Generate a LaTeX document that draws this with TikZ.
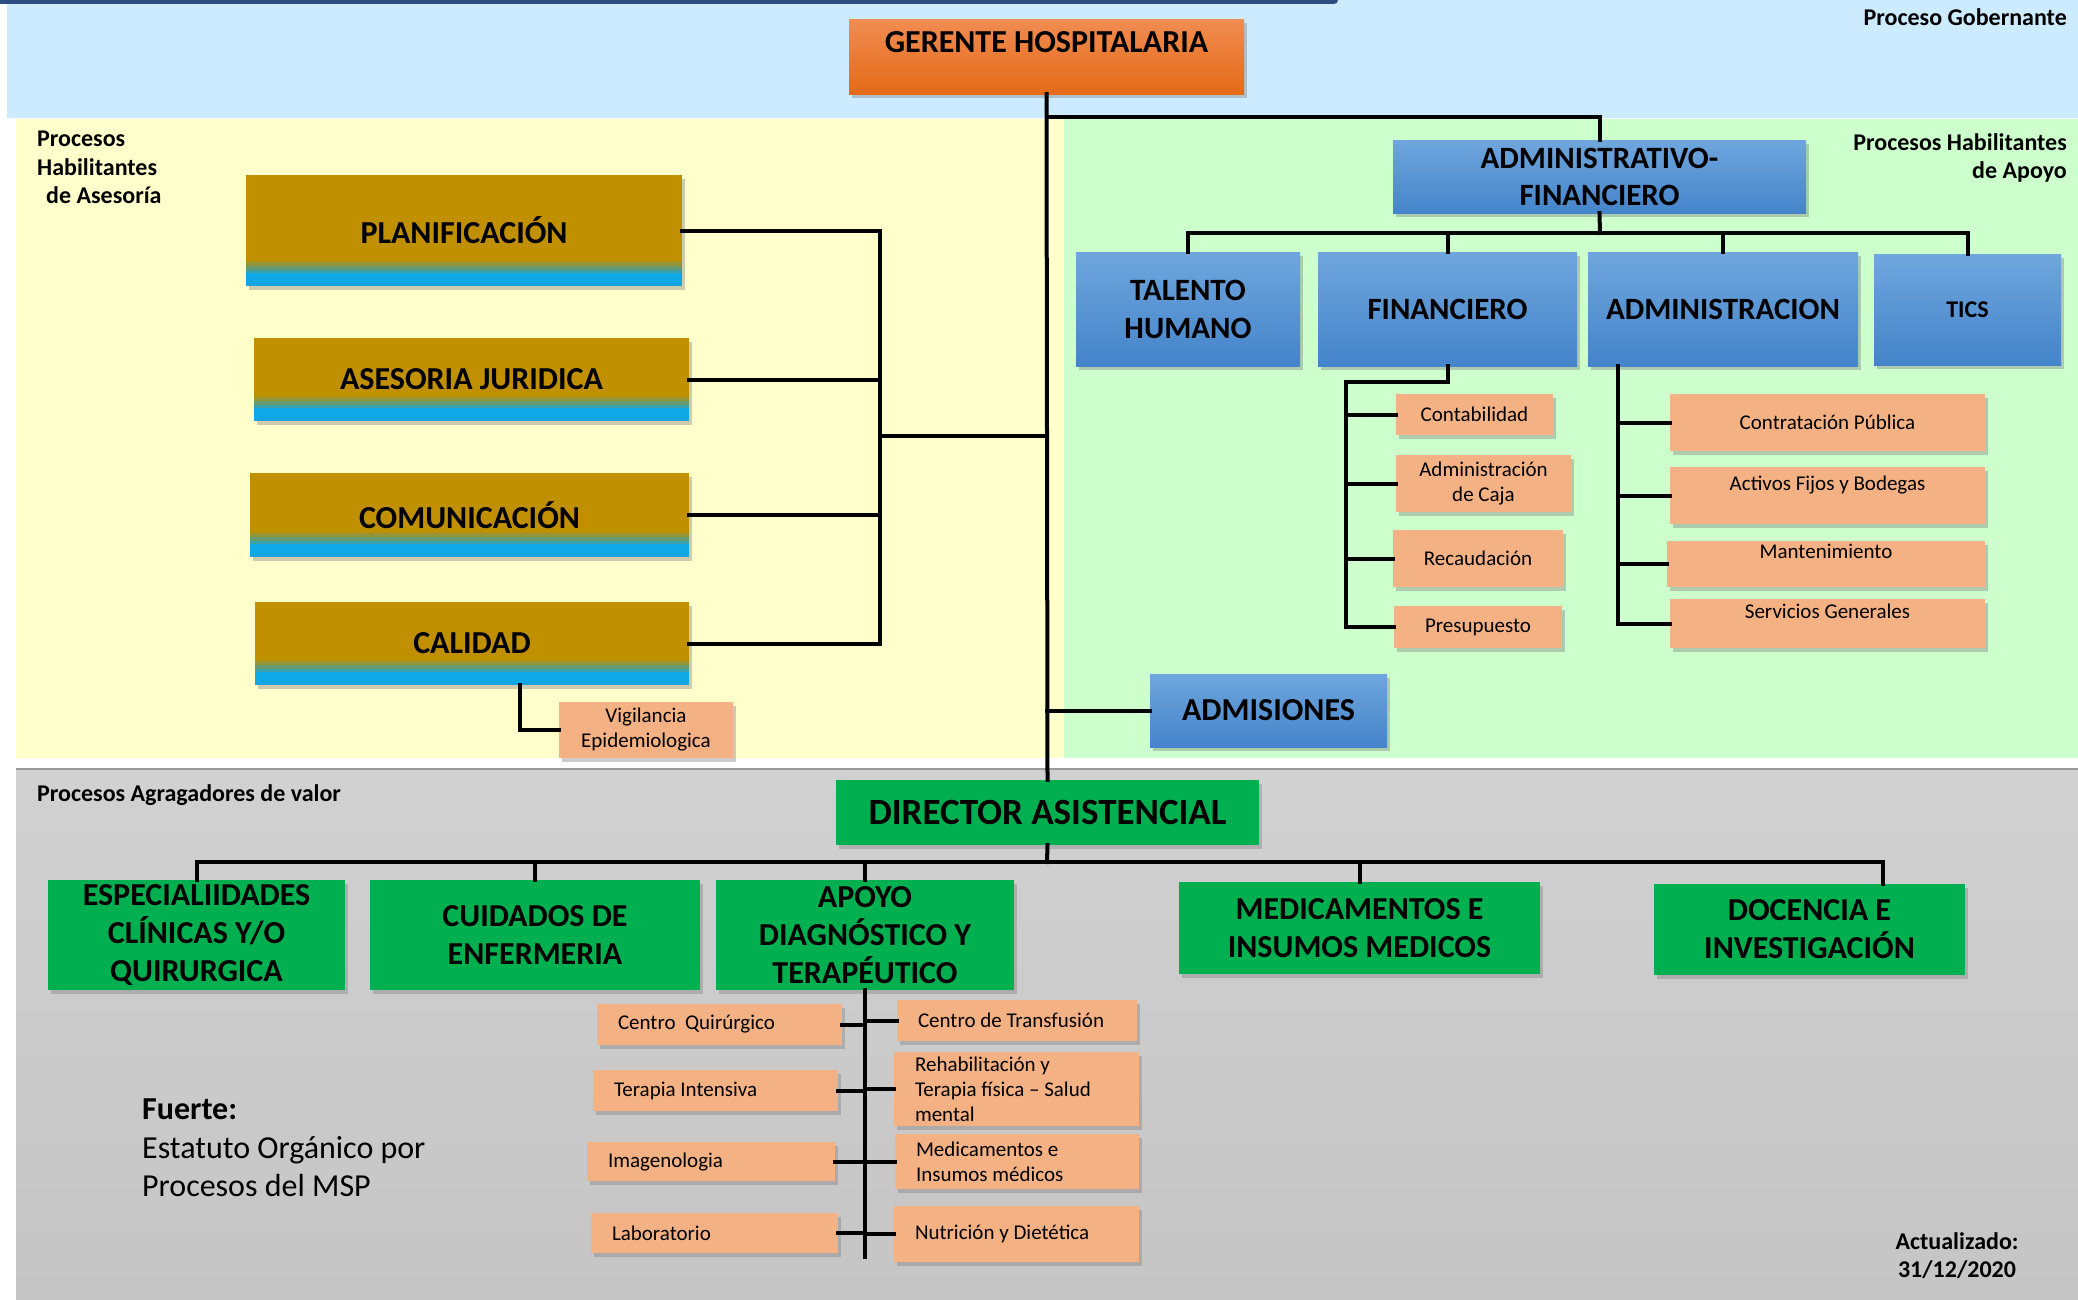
\documentclass[tikz,border=0pt]{standalone}
\usepackage{fontspec}
\setmainfont{Carlito}
\usetikzlibrary{shadows}

\definecolor{bandblue}{RGB}{204,235,254}
\definecolor{bandyellow}{RGB}{255,255,204}
\definecolor{bandgreen}{RGB}{204,255,204}
\definecolor{bandgray}{RGB}{209,209,209}
\definecolor{bandgraylow}{RGB}{197,197,197}
\definecolor{topline}{RGB}{44,77,130}
\definecolor{bossTop}{RGB}{241,140,82}
\definecolor{bossBot}{RGB}{228,106,22}
\definecolor{gold}{RGB}{192,144,0}
\definecolor{stripmid}{RGB}{104,154,112}
\definecolor{stripblue}{RGB}{14,168,230}
\definecolor{supTop}{RGB}{111,166,221}
\definecolor{supBot}{RGB}{68,132,202}
\definecolor{valgreen}{RGB}{0,176,80}
\definecolor{peach}{RGB}{244,177,131}

\begin{document}
\begin{tikzpicture}[x=1pt, y=-1pt,
		shade box/.style={drop shadow={shadow xshift=3pt, shadow yshift=-4pt, opacity=.4}},
		boss/.style={shade box, top color=bossTop, bottom color=bossBot, inner sep=0pt, text height=33pt, text depth=42pt, font=\fontsize{32}{38}\selectfont\bfseries},
		advbox/.style={shade box, fill=gold, inner sep=0pt, font=\fontsize{32}{38}\selectfont\bfseries,
			path picture={
				\fill[gold!50!stripmid] ([yshift=24pt]path picture bounding box.south west) rectangle ([yshift=20pt]path picture bounding box.south east);
				\fill[stripmid] ([yshift=20pt]path picture bounding box.south west) rectangle ([yshift=16pt]path picture bounding box.south east);
				\fill[stripmid!50!stripblue] ([yshift=16pt]path picture bounding box.south west) rectangle ([yshift=13pt]path picture bounding box.south east);
				\fill[stripblue] ([yshift=13pt]path picture bounding box.south west) rectangle ([yshift=3pt]path picture bounding box.south east);
				\fill[stripblue!80!supBot] ([yshift=3pt]path picture bounding box.south west) rectangle (path picture bounding box.south east);}},
		supbox/.style={shade box, top color=supTop, bottom color=supBot, inner sep=0pt, align=center, font=\fontsize{31}{38}\selectfont\bfseries},
		valbox/.style={shade box, fill=valgreen, inner sep=0pt, align=center, font=\fontsize{32}{38}\selectfont\bfseries},
		unitbox/.style={shade box, fill=peach, inner sep=0pt, align=center, font=\fontsize{21}{25}\selectfont},
		unitleft/.style={unitbox, align=flush left, inner xsep=21pt, text width=#1},
		zonetag/.style={inner sep=0pt, font=\fontsize{24}{28.5}\selectfont\bfseries},
		link/.style={line width=4pt, line cap=rect}]
	\useasboundingbox (0,0) rectangle (2078,1299);

	% bands
	\fill[bandblue] (7,0) rectangle (2078,118);
	\fill[bandyellow] (16,119) rectangle (1064,758);
	\fill[bandgreen] (1064,119) rectangle (2078,758);
	\shade[top color=bandgray, bottom color=bandgraylow] (16,769) rectangle (2078,1299);
	\draw[gray!80, line width=2pt] (16,769) -- (2078,769);
	\draw[topline, line width=8pt, line cap=round] (-10,0) -- (1334,0);

	% boxes
	\node[boss, minimum width=395pt] (ger) at (1046.5,56.5) {GERENTE HOSPITALARIA};

	\node[advbox, minimum width=436pt, minimum height=111pt] (plan) at (464,230.5) {PLANIFICACIÓN};
	\node[advbox, minimum width=435pt, minimum height=83pt] (ases) at (471.5,379.5) {ASESORIA JURIDICA};
	\node[advbox, minimum width=439pt, minimum height=84pt] (comu) at (469.5,515) {COMUNICACIÓN};
	\node[advbox, minimum width=434pt, minimum height=83pt] (cal) at (472,643.5) {CALIDAD};
	\node[unitbox, minimum width=174pt, minimum height=56pt] (vig) at (646,730) {Vigilancia\\Epidemiologica};

	\node[supbox, minimum width=413pt, minimum height=73pt, font=\fontsize{31}{37}\selectfont\bfseries] (adf) at (1599.5,176.5) {ADMINISTRATIVO-\\FINANCIERO};
	\node[supbox, minimum width=224pt, minimum height=114pt] (talento) at (1188,309) {TALENTO\\HUMANO};
	\node[supbox, minimum width=259pt, minimum height=114pt] (financiero) at (1447.5,309) {FINANCIERO};
	\node[supbox, minimum width=270pt, minimum height=114pt] (administracion) at (1723,309) {ADMINISTRACION};
	\node[supbox, minimum width=187pt, minimum height=111pt, font=\fontsize{24}{29}\selectfont\bfseries] (tics) at (1967.5,309.5) {TICS};
	\node[supbox, minimum width=237pt, minimum height=73pt, font=\fontsize{32}{38}\selectfont\bfseries] (admisiones) at (1268.5,710.5) {ADMISIONES};

	\node[unitbox, minimum width=157pt, minimum height=41pt] (contab) at (1474.5,414.5) {Contabilidad};
	\node[unitbox, minimum width=175pt, minimum height=57pt] (caja) at (1483.5,483.5) {Administración\\de Caja};
	\node[unitbox, minimum width=170pt, minimum height=57pt] (recaud) at (1478,558.5) {Recaudación};
	\node[unitbox, minimum width=168pt, minimum height=42pt] (presup) at (1478,627) {Presupuesto};

	\node[unitbox, minimum width=315pt, minimum height=57pt] (contrat) at (1827.5,422.5) {Contratación Pública};
	\node[unitbox, minimum width=315pt, text height=23.5pt, text depth=33.5pt] (activos) at (1827.5,495.5) {Activos Fijos y Bodegas};
	\node[unitbox, minimum width=318pt, text height=17.5pt, text depth=28.5pt] (mant) at (1826,564) {Mantenimiento};
	\node[unitbox, minimum width=315pt, text height=19.5pt, text depth=29.5pt] (servicios) at (1827.5,623.5) {Servicios Generales};

	\node[valbox, minimum width=423pt, minimum height=65pt, font=\fontsize{37}{44}\selectfont\bfseries] (dir) at (1047.5,812.5) {DIRECTOR ASISTENCIAL};
	\node[valbox, minimum width=297pt, minimum height=110pt] (esp) at (196.5,935) {ESPECIALIIDADES\\CLÍNICAS Y/O\\QUIRURGICA};
	\node[valbox, minimum width=330pt, minimum height=110pt] (cuid) at (535,935) {CUIDADOS DE\\ENFERMERIA};
	\node[valbox, minimum width=298pt, minimum height=110pt] (apoyo) at (865,935) {APOYO\\DIAGNÓSTICO Y\\TERAPÉUTICO};
	\node[valbox, minimum width=361pt, minimum height=92pt] (medic) at (1359.5,928) {MEDICAMENTOS E\\INSUMOS MEDICOS};
	\node[valbox, minimum width=311pt, minimum height=91pt] (docencia) at (1809.5,929.5) {DOCENCIA E\\INVESTIGACIÓN};

	\node[unitleft=203pt, minimum height=41pt] (quir) at (719.5,1024.5) {Centro\ \ Quirúrgico};
	\node[unitleft=203pt, minimum height=41pt] (terapia) at (715.5,1090.5) {Terapia Intensiva};
	\node[unitleft=206pt, minimum height=39pt] (imagen) at (711,1161.5) {Imagenologia};
	\node[unitleft=205pt, minimum height=40pt] (lab) at (714.5,1233) {Laboratorio};
	\node[unitleft=198pt, minimum height=41pt] (transf) at (1017,1020.5) {Centro de Transfusión};
	\node[unitleft=203pt, minimum height=74pt] (rehab) at (1016.5,1089) {Rehabilitación y\\Terapia física – Salud\\mental};
	\node[unitleft=202pt, minimum height=55pt] (medins) at (1017,1161.5) {Medicamentos e\\Insumos médicos};
	\node[unitleft=203pt, minimum height=56pt] (nutri) at (1016.5,1234) {Nutrición y Dietética};

	% zone texts
	\node[zonetag, anchor=east] (gob) at (2067,17) {Proceso Gobernante};
	\node[zonetag, anchor=north west, align=left] (asesoria) at (37,131) {Procesos\\Habilitantes\\\hspace*{9pt}de Asesoría};
	\node[zonetag, anchor=north east, align=right] (apoyotag) at (2067,133) {Procesos Habilitantes\\de Apoyo};
	\node[zonetag, anchor=west] (valor) at (37,795) {Procesos Agragadores de valor};
	\node[anchor=north west, align=left, inner sep=0pt, font=\fontsize{32}{38.5}\selectfont] (fuente) at (142,1099) {\textbf{Fuerte:}\\Estatuto Orgánico por\\Procesos del MSP};
	\node[zonetag, anchor=north, align=center] (fecha) at (1957,1232) {Actualizado:\\31/12/2020};

	% connectors
	\coordinate (jt) at (1047,117);
	\coordinate (bb) at (1600,233);
	\coordinate (br) at (880,436);
	\coordinate (fk) at (1346,382);
	\coordinate (ak) at (1618,366);
	\coordinate (gb) at (1047,862);
	\coordinate (dk) at ([xshift=73pt]docencia.north);
	\coordinate (ap) at (865,1257);

	\draw[link] (ger.south) -- (dir.north);
	\draw[link] (jt) -| (adf.north);
	\draw[link] (adf.south) -- (bb);
	\draw[link] (talento.north |- bb) -- (tics.north |- bb);
	\foreach \n in {talento,financiero,administracion,tics}
		\draw[link] (\n.north |- bb) -- (\n.north);

	\foreach \n in {plan,ases,comu,cal}
		\draw[link] (\n.east) -- (\n.east -| br);
	\draw[link] (plan.east -| br) -- (cal.east -| br);
	\draw[link] (br) -- (br -| ger.south);
	\draw[link] ([xshift=48pt]cal.south) |- (vig.west);
	\draw[link] (admisiones.west -| ger.south) -- (admisiones.west);

	\draw[link] (financiero.south) |- (fk) -- (fk |- presup.west);
	\foreach \n in {contab,caja,recaud,presup}
		\draw[link] (fk |- \n.west) -- (\n.west);
	\draw[link] (ak) -- (ak |- servicios.west);
	\foreach \n in {contrat,activos,mant,servicios}
		\draw[link] (ak |- \n.west) -- (\n.west);

	\draw[link] (dir.south) -- (gb);
	\draw[link] (esp.north |- gb) -- (dk |- gb);
	\foreach \n in {esp,cuid,apoyo,medic}
		\draw[link] (\n.north |- gb) -- (\n.north);
	\draw[link] (dk |- gb) -- (dk);

	\draw[link] (apoyo.south) -- (ap);
	\foreach \n in {quir,terapia,imagen,lab}
		\draw[link] (\n.east) -- (\n.east -| ap);
	\foreach \n in {transf,rehab,medins,nutri}
		\draw[link] (\n.west -| ap) -- (\n.west);
\end{tikzpicture}
\end{document}
